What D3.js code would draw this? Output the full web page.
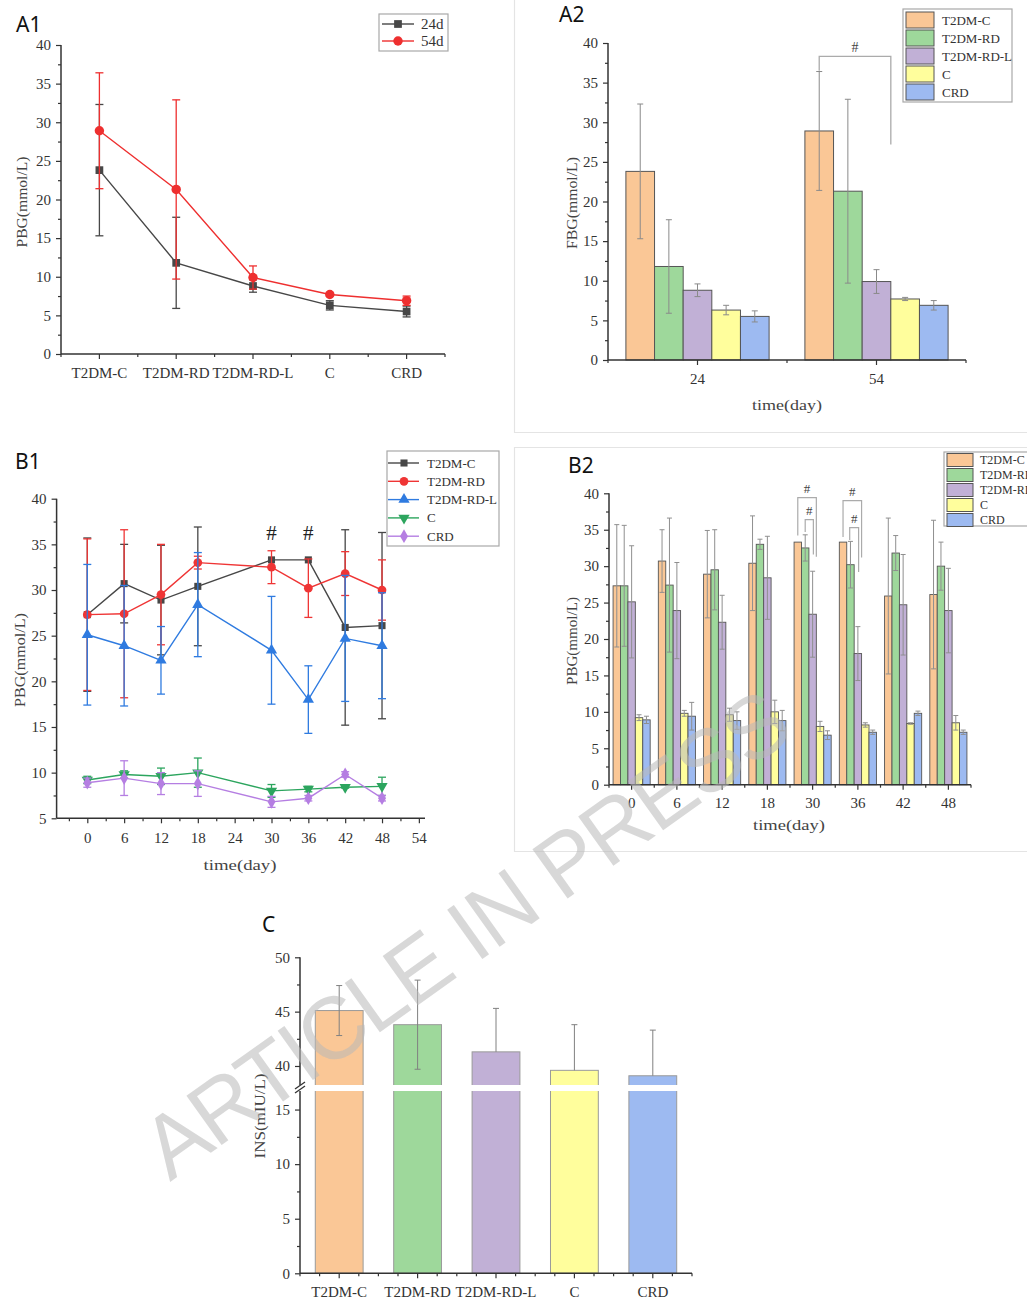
<!DOCTYPE html>
<html><head><meta charset="utf-8">
<script src="https://cdn.jsdelivr.net/npm/d3@7"></script>
<style>
body{margin:0;background:#fff;}
svg{display:block;}
</style></head><body>
<svg id="fig" width="1027" height="1302"></svg>
<script>
// ---------------- data ----------------
const groups = ["T2DM-C", "T2DM-RD", "T2DM-RD-L", "C", "CRD"];
const barColors = ["#fac796", "#9ed89b", "#c1b0d6", "#fffe9c", "#9dbaf1"];
const lineColors = ["#474747", "#ef3535", "#2f7be0", "#2ca55e", "#b57ee2"];

// fasting blood glucose on day 24 and day 54 (mean, SD)
const fbgDays = ["24", "54"];
const fbg24 = [23.8, 11.8, 8.8, 6.3, 5.5];
const fbg24Sd = [8.5, 5.9, 0.8, 0.6, 0.7];
const fbg54 = [28.9, 21.3, 9.9, 7.7, 6.9];
const fbg54Sd = [7.5, 11.6, 1.5, 0.2, 0.6];

// blood glucose time course (mean, SD)
const days = [0, 6, 12, 18, 30, 36, 42, 48];
const pbgT2dmC = [27.3, 30.7, 28.9, 30.4, 33.3, 33.3, 25.9, 26.1];
const pbgT2dmCSd = [8.4, 4.3, 6.0, 6.5, 0, 0, 10.7, 10.2];
const pbgT2dmRd = [27.3, 27.4, 29.5, 33.0, 32.5, 30.2, 31.8, 30.0];
const pbgT2dmRdSd = [8.3, 9.2, 5.5, 0.7, 1.8, 3.2, 2.4, 3.3];
const pbgT2dmRdL = [25.1, 23.9, 22.3, 28.4, 23.4, 18.0, 24.7, 23.9];
const pbgT2dmRdLSd = [7.7, 6.6, 3.7, 5.7, 5.9, 3.7, 6.9, 5.8];
const pbgC = [9.2, 9.8, 9.6, 10.0, 8.0, 8.2, 8.4, 8.5];
const pbgCSd = [0.4, 0.4, 0.9, 1.6, 0.7, 0.3, 0.1, 1.0];
const pbgCrd = [8.9, 9.4, 8.8, 8.8, 6.8, 7.2, 9.8, 7.2];
const pbgCrdSd = [0.5, 1.9, 1.2, 1.4, 0.6, 0.3, 0.3, 0.3];
const sigDays = [30, 36];
const sigLevel = 36.2;

// significance brackets (bar positions in bar-width units inside a group)
const fbgBrackets = [
  {group: "54", from: 0.5, to: 3.0, top: 38.3, left: 36.5, right: 27.2}
];
const pbgBrackets = [
  {group: "30", from: 0.5, to: 3.0, top: 39.4, left: 34.2, right: 31.3},
  {group: "30", from: 1.5, to: 2.6, top: 36.4, left: 34.7, right: 31.6},
  {group: "36", from: 0.5, to: 3.0, top: 39.0, left: 34.0, right: 31.2},
  {group: "36", from: 1.4, to: 2.6, top: 35.3, left: 33.6, right: 29.2}
];

// serum insulin (mean, error up / down)
const insMean = [45.1, 43.8, 41.3, 39.6, 39.1];
const insErrUp = [2.3, 4.1, 4.0, 4.2, 4.2];
const insErrDown = [2.3, 4.1, 0, 0, 0];

// ---------------- helpers ----------------
const svg = d3.select("#fig");
const serif = '"Liberation Serif","DejaVu Serif",serif';
const sans = '"Noto Sans","Open Sans",sans-serif';
const axisColor = "#333";

function styleAxis(a, fs) {
  a.selectAll("path.domain").remove();
  a.selectAll(".tick line").attr("stroke", axisColor).attr("stroke-width", 1.2);
  a.selectAll(".tick text").attr("font-family", serif).attr("font-size", fs || 15).attr("fill", "#333");
}

function leftAxis(g, y, x, major, minor) {
  const a = g.append("g").attr("transform", `translate(${x},0)`);
  a.call(d3.axisLeft(y).tickValues(major).tickSize(5).tickPadding(5).tickSizeOuter(0));
  a.append("g").call(d3.axisLeft(y).tickValues(minor).tickSize(3).tickFormat("").tickSizeOuter(0));
  styleAxis(a);
  const r = d3.extent(y.range());
  a.append("line").attr("y1", r[0]).attr("y2", r[1]).attr("stroke", axisColor).attr("stroke-width", 1.5);
  return a;
}

function bandBottomAxis(g, x, y0, quarters) {
  const a = g.append("g").attr("transform", `translate(0,${y0})`);
  a.call(d3.axisBottom(x).tickSize(5).tickPadding(8).tickSizeOuter(0));
  styleAxis(a);
  const bw = x.bandwidth();
  let minor = [];
  x.domain().forEach(d => {
    minor.push(x(d));
    if (quarters) { minor.push(x(d) + bw / 4); minor.push(x(d) + 3 * bw / 4); }
  });
  minor.push(x.range()[1]);
  a.selectAll("line.minor").data(minor).join("line").attr("class", "minor")
    .attr("x1", d => d).attr("x2", d => d).attr("y2", 3)
    .attr("stroke", axisColor).attr("stroke-width", 1.2);
  a.append("line").attr("x1", x.range()[0]).attr("x2", x.range()[1])
    .attr("stroke", axisColor).attr("stroke-width", 1.5);
  return a;
}

function panelLabel(text, x, y) {
  svg.append("text").attr("x", x).attr("y", y).attr("font-family", sans)
    .attr("font-size", 21).attr("fill", "#111").text(text);
}
function yTitle(text, x, cy, len) {
  svg.append("text").attr("transform", `translate(${x},${cy}) rotate(-90)`)
    .attr("text-anchor", "middle").attr("font-family", serif).attr("font-size", 15)
    .attr("fill", "#444").attr("textLength", len).attr("lengthAdjust", "spacingAndGlyphs").text(text);
}
function xTitle(text, cx, y, len) {
  svg.append("text").attr("x", cx).attr("y", y)
    .attr("text-anchor", "middle").attr("font-family", serif).attr("font-size", 15)
    .attr("fill", "#444").attr("textLength", len).attr("lengthAdjust", "spacingAndGlyphs").text(text);
}
function errBar(g, cx, yTop, yBot, cap, color, w) {
  g.append("line").attr("x1", cx).attr("x2", cx).attr("y1", yTop).attr("y2", yBot)
    .attr("stroke", color).attr("stroke-width", w || 1);
  [yTop, yBot].forEach(yy => g.append("line").attr("x1", cx - cap).attr("x2", cx + cap)
    .attr("y1", yy).attr("y2", yy).attr("stroke", color).attr("stroke-width", w || 1));
}
function marker(g, sym, size, x, y, color, rot) {
  g.append("path").attr("d", d3.symbol().type(sym).size(size)())
    .attr("transform", `translate(${x},${y})` + (rot ? ` rotate(${rot})` : ""))
    .attr("fill", color);
}
function legendBox(x0, y0, x1, y1) {
  svg.append("rect").attr("x", x0).attr("y", y0).attr("width", x1 - x0).attr("height", y1 - y0)
    .attr("fill", "#fff").attr("stroke", "#a8a8a8").attr("stroke-width", 1.2);
}

// panel frames
const frame = svg.append("g").attr("stroke", "#e4e4e4").attr("stroke-width", 1.2).attr("fill", "none");
frame.append("path").attr("d", "M514.5,0 V432.5 H1027");
frame.append("path").attr("d", "M1027,447.5 H514.5 V851.5 H1027");

// ---------------- A1 ----------------
{
  const g = svg.append("g");
  const x = d3.scaleBand().domain(groups).range([61, 445]);
  const y = d3.scaleLinear().domain([0, 40]).range([354, 45]);
  leftAxis(g, y, 61, d3.range(0, 41, 5), d3.range(2.5, 40, 5));
  bandBottomAxis(g, x, 354, false);
  const cx = d => x(d) + x.bandwidth() / 2;
  const series = [
    {v: fbg24, sd: fbg24Sd, color: "#474747", sym: d3.symbolSquare, size: 60},
    {v: fbg54, sd: fbg54Sd, color: "#ee2f2f", sym: d3.symbolCircle, size: 70}
  ];
  series.forEach(s => {
    const pts = groups.map((d, i) => [cx(d), y(s.v[i])]);
    g.append("path").attr("d", d3.line()(pts)).attr("fill", "none")
      .attr("stroke", s.color).attr("stroke-width", 1.4);
    groups.forEach((d, i) => {
      errBar(g, cx(d), y(s.v[i] + s.sd[i]), y(s.v[i] - s.sd[i]), 4, s.color, 1.3);
      marker(g, s.sym, s.size, cx(d), y(s.v[i]), s.color);
    });
  });
  yTitle("PBG(mmol/L)", 27, 202, 91);
  panelLabel("A1", 16, 32);
  legendBox(379, 14, 448, 51);
  [["24d", series[0]], ["54d", series[1]]].forEach(([t, s], i) => {
    const ly = 24 + i * 17;
    svg.append("line").attr("x1", 382).attr("x2", 414).attr("y1", ly).attr("y2", ly)
      .attr("stroke", s.color).attr("stroke-width", 1.4);
    marker(svg, s.sym, s.size, 398, ly, s.color);
    svg.append("text").attr("x", 421).attr("y", ly + 5).attr("font-family", serif)
      .attr("font-size", 15).attr("fill", "#333").text(t);
  });
}

// ---------------- A2 ----------------
{
  const g = svg.append("g");
  const x0 = d3.scaleBand().domain(fbgDays).range([608, 966]);
  const bw = x0.bandwidth();
  const x1 = d3.scaleBand().domain(groups).range([bw * 0.1, bw * 0.9]);
  const y = d3.scaleLinear().domain([0, 40]).range([360, 43]);
  const data = {"24": [fbg24, fbg24Sd], "54": [fbg54, fbg54Sd]};
  fbgDays.forEach(day => {
    const [v, sd] = data[day];
    groups.forEach((gr, i) => {
      g.append("rect").attr("x", x0(day) + x1(gr)).attr("y", y(v[i]))
        .attr("width", x1.bandwidth()).attr("height", y(0) - y(v[i]))
        .attr("fill", barColors[i]).attr("stroke", "#555").attr("stroke-width", 1);
    });
    groups.forEach((gr, i) => {
      const cx = x0(day) + x1(gr) + x1.bandwidth() / 2;
      errBar(g, cx, y(v[i] + sd[i]), y(v[i] - sd[i]), 3, "#8a8a8a", 1);
    });
  });
  leftAxis(g, y, 608, d3.range(0, 41, 5), d3.range(2.5, 40, 5));
  bandBottomAxis(g, x0, 360, false);
  // significance bracket
  fbgBrackets.forEach(b => {
    const base = x0(b.group) + x1.range()[0];
    const xa = base + b.from * x1.step(), xb = base + b.to * x1.step();
    g.append("path").attr("d", `M${xa},${y(b.left)} V${y(b.top)} H${xb} V${y(b.right)}`)
      .attr("fill", "none").attr("stroke", "#ababab").attr("stroke-width", 1.3);
    g.append("text").attr("x", (xa + xb) / 2).attr("y", y(b.top) - 4).attr("text-anchor", "middle")
      .attr("font-family", serif).attr("font-size", 14).attr("fill", "#444").text("#");
  });
  yTitle("FBG(mmol/L)", 577, 203, 92);
  xTitle("time(day)", 787, 410, 70);
  panelLabel("A2", 559, 22);
  legendBox(903, 9, 1012, 102);
  groups.forEach((gr, i) => {
    const cy = 20 + i * 18;
    svg.append("rect").attr("x", 906).attr("y", cy - 8).attr("width", 28).attr("height", 16)
      .attr("fill", barColors[i]).attr("stroke", "#555").attr("stroke-width", 1);
    svg.append("text").attr("x", 942).attr("y", cy + 4.5).attr("font-family", serif)
      .attr("font-size", 13).attr("fill", "#333").text(gr);
  });
}

// ---------------- B1 ----------------
{
  const g = svg.append("g");
  const x = d3.scaleLinear().domain([-5, 55]).range([56.6, 425]);
  const y = d3.scaleLinear().domain([5, 40]).range([818.3, 498.7]);
  leftAxis(g, y, 56.6, d3.range(5, 41, 5), d3.range(7.5, 40, 5));
  const a = g.append("g").attr("transform", "translate(0,818.3)");
  a.call(d3.axisBottom(x).tickValues(d3.range(0, 55, 6)).tickSize(5).tickPadding(9).tickSizeOuter(0));
  a.append("g").call(d3.axisBottom(x).tickValues(d3.range(-3, 55, 6)).tickSize(3).tickFormat("").tickSizeOuter(0));
  styleAxis(a);
  a.append("line").attr("x1", 56.6).attr("x2", 425).attr("stroke", axisColor).attr("stroke-width", 1.5);

  const series = [
    {name: "T2DM-C", v: pbgT2dmC, sd: pbgT2dmCSd, color: lineColors[0], sym: d3.symbolSquare, size: 50},
    {name: "T2DM-RD", v: pbgT2dmRd, sd: pbgT2dmRdSd, color: lineColors[1], sym: d3.symbolCircle, size: 60},
    {name: "T2DM-RD-L", v: pbgT2dmRdL, sd: pbgT2dmRdLSd, color: lineColors[2], sym: d3.symbolTriangle, size: 55},
    {name: "C", v: pbgC, sd: pbgCSd, color: lineColors[3], sym: d3.symbolTriangle, size: 55, rot: 180},
    {name: "CRD", v: pbgCrd, sd: pbgCrdSd, color: lineColors[4], sym: d3.symbolDiamond, size: 55}
  ];
  series.forEach(s => {
    g.append("path").attr("d", d3.line()(days.map((d, i) => [x(d), y(s.v[i])])))
      .attr("fill", "none").attr("stroke", s.color).attr("stroke-width", 1.4);
    days.forEach((d, i) => {
      if (s.sd[i] > 0) errBar(g, x(d), y(s.v[i] + s.sd[i]), y(s.v[i] - s.sd[i]), 4, s.color, 1.3);
      marker(g, s.sym, s.size, x(d), y(s.v[i]), s.color, s.rot);
    });
  });
  sigDays.forEach(d => g.append("text").attr("x", x(d)).attr("y", y(sigLevel) + 7)
    .attr("text-anchor", "middle").attr("font-family", serif).attr("font-size", 21)
    .attr("fill", "#222").text("#"));
  yTitle("PBG(mmol/L)", 25, 660, 94);
  xTitle("time(day)", 240, 870, 73);
  panelLabel("B1", 15, 469);
  legendBox(387, 451, 499, 546);
  series.forEach((s, i) => {
    const ly = 463 + i * 18.3;
    svg.append("line").attr("x1", 388).attr("x2", 419).attr("y1", ly).attr("y2", ly)
      .attr("stroke", s.color).attr("stroke-width", 1.4);
    marker(svg, s.sym, s.size, 404, ly, s.color, s.rot);
    svg.append("text").attr("x", 427).attr("y", ly + 4.5).attr("font-family", serif)
      .attr("font-size", 13).attr("fill", "#333").text(s.name);
  });
}

// ---------------- B2 ----------------
{
  const g = svg.append("g");
  const dayKeys = days.map(String);
  const x0 = d3.scaleBand().domain(dayKeys).range([609, 971]);
  const bw = x0.bandwidth();
  const x1 = d3.scaleBand().domain(groups).range([bw * 0.09, bw * 0.91]);
  const y = d3.scaleLinear().domain([0, 40]).range([784.7, 493.3]);
  const vals = [pbgT2dmC, pbgT2dmRd, pbgT2dmRdL, pbgC, pbgCrd];
  const sds = [pbgT2dmCSd, pbgT2dmRdSd, pbgT2dmRdLSd, pbgCSd, pbgCrdSd];
  dayKeys.forEach((dk, j) => {
    groups.forEach((gr, i) => {
      g.append("rect").attr("x", x0(dk) + x1(gr)).attr("y", y(vals[i][j]))
        .attr("width", x1.bandwidth()).attr("height", y(0) - y(vals[i][j]))
        .attr("fill", barColors[i]).attr("stroke", "#555").attr("stroke-width", 0.9);
    });
    groups.forEach((gr, i) => {
      if (sds[i][j] <= 0) return;
      const cx = x0(dk) + x1(gr) + x1.bandwidth() / 2;
      errBar(g, cx, y(vals[i][j] + sds[i][j]), y(vals[i][j] - sds[i][j]), 2.5, "#8f8f8f", 1);
    });
  });
  leftAxis(g, y, 609, d3.range(0, 41, 5), d3.range(2.5, 40, 5));
  bandBottomAxis(g, x0, 784.7, false);
  pbgBrackets.forEach(b => {
    const base = x0(b.group) + x1.range()[0];
    const xa = base + b.from * x1.step(), xb = base + b.to * x1.step();
    g.append("path").attr("d", `M${xa},${y(b.left)} V${y(b.top)} H${xb} V${y(b.right)}`)
      .attr("fill", "none").attr("stroke", "#ababab").attr("stroke-width", 1.2);
    g.append("text").attr("x", (xa + xb) / 2).attr("y", y(b.top) - 5).attr("text-anchor", "middle")
      .attr("font-family", serif).attr("font-size", 13).attr("fill", "#444").text("#");
  });
  yTitle("PBG(mmol/L)", 577, 641, 88);
  xTitle("time(day)", 789, 830, 72);
  panelLabel("B2", 568, 473);
  legendBox(944, 452, 1040, 526);
  groups.forEach((gr, i) => {
    const cy = 460 + i * 15;
    svg.append("rect").attr("x", 947).attr("y", cy - 6.5).attr("width", 26).attr("height", 13)
      .attr("fill", barColors[i]).attr("stroke", "#555").attr("stroke-width", 1);
    svg.append("text").attr("x", 980).attr("y", cy + 4).attr("font-family", serif)
      .attr("font-size", 12).attr("fill", "#333").text(gr);
  });
}

// ---------------- C ----------------
{
  const g = svg.append("g");
  const x = d3.scaleBand().domain(groups).range([300, 692]);
  // broken value axis: lower segment 0–16.7, upper segment 38.25–50
  const y = d3.scaleLinear().domain([0, 16.7, 38.25, 50]).range([1273.3, 1091, 1085, 957.3]);
  const bwBar = x.bandwidth() * 0.61;
  groups.forEach((gr, i) => {
    const cx = x(gr) + x.bandwidth() / 2;
    g.append("rect").attr("x", cx - bwBar / 2).attr("y", y(insMean[i]))
      .attr("width", bwBar).attr("height", y(0) - y(insMean[i]))
      .attr("fill", barColors[i]).attr("stroke", "#9a9a9a").attr("stroke-width", 1);
  });
  // break gap
  g.append("rect").attr("x", 290).attr("y", y(38.25)).attr("width", 410)
    .attr("height", y(16.7) - y(38.25)).attr("fill", "#fff");
  groups.forEach((gr, i) => {
    const cx = x(gr) + x.bandwidth() / 2;
    const top = y(insMean[i] + insErrUp[i]);
    const bot = y(insMean[i] - insErrDown[i]);
    g.append("line").attr("x1", cx).attr("x2", cx).attr("y1", top).attr("y2", bot)
      .attr("stroke", "#808080").attr("stroke-width", 1);
    g.append("line").attr("x1", cx - 3).attr("x2", cx + 3).attr("y1", top).attr("y2", top)
      .attr("stroke", "#808080").attr("stroke-width", 1);
    if (insErrDown[i] > 0) g.append("line").attr("x1", cx - 3).attr("x2", cx + 3).attr("y1", bot).attr("y2", bot)
      .attr("stroke", "#808080").attr("stroke-width", 1);
  });
  const a = g.append("g").attr("transform", "translate(300,0)");
  a.call(d3.axisLeft(y).tickValues([0, 5, 10, 15, 40, 45, 50]).tickSize(5).tickPadding(5).tickSizeOuter(0));
  a.append("g").call(d3.axisLeft(y).tickValues([2.5, 7.5, 12.5, 42.5, 47.5]).tickSize(3).tickFormat("").tickSizeOuter(0));
  styleAxis(a);
  a.append("line").attr("y1", y(0)).attr("y2", y(16.7)).attr("stroke", axisColor).attr("stroke-width", 1.5);
  a.append("line").attr("y1", y(38.25)).attr("y2", y(50)).attr("stroke", axisColor).attr("stroke-width", 1.5);
  // break marks
  [0, 4].forEach(o => a.append("line").attr("x1", -5).attr("x2", 5)
    .attr("y1", y(16.7) + 2 - o).attr("y2", y(16.7) - 5 - o)
    .attr("stroke", axisColor).attr("stroke-width", 1.3));
  bandBottomAxis(g, x, 1273.3, true);
  yTitle("INS(mIU/L)", 265, 1116, 85);
  panelLabel("C", 262, 932);
}

// ---------------- watermark ----------------
svg.append("text")
  .attr("transform", "translate(170,1182) rotate(-35.5)")
  .attr("font-family", '"Liberation Sans",Arial,sans-serif')
  .attr("font-size", 88).attr("fill", "#b8b8b8").attr("fill-opacity", 0.55)
  .attr("textLength", 770).attr("lengthAdjust", "spacing")
  .text("ARTICLE IN PRESS");
</script>
</body></html>
